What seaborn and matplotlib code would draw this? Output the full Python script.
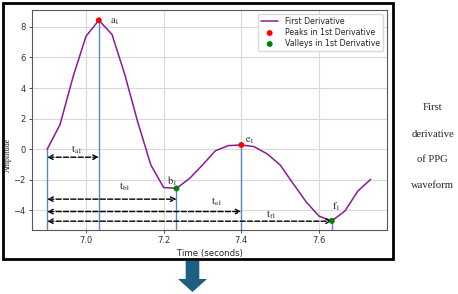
import numpy as np
import pandas as pd
import matplotlib
matplotlib.use("Agg")
import matplotlib.pyplot as plt
import matplotlib.patches as mpatches
import seaborn as sns

# ---- data ----
time = [6.900, 6.933, 6.967, 7.000, 7.033, 7.067, 7.100, 7.133, 7.167, 7.200,
        7.233, 7.267, 7.300, 7.333, 7.367, 7.400, 7.433, 7.467, 7.500, 7.533,
        7.567, 7.600, 7.633, 7.667, 7.700, 7.733]
deriv = [0.00, 1.60, 4.76, 7.38, 8.43, 7.50, 4.87, 1.80, -1.03, -2.50,
         -2.56, -1.90, -1.03, -0.10, 0.24, 0.28, 0.17, -0.31, -1.03, -2.23,
         -3.44, -4.37, -4.68, -4.03, -2.73, -1.97]
peak_idx = [4, 15]
valley_idx = [10, 22]
point_names = ["a1", "b1", "e1", "f1"]
interval_names = ["ta1", "tb1", "te1", "tf1"]
arrow_levels = [-0.52, -3.26, -4.07, -4.70]
side_text = ["First", "derivative", "of PPG", "waveform"]

df = pd.DataFrame({"Time (seconds)": time, "Amplitude": deriv})
peaks = df.iloc[peak_idx]
valleys = df.iloc[valley_idx]

sns.set_theme(style="whitegrid", rc={
    "xtick.bottom": True, "ytick.left": True,
    "axes.edgecolor": "0.35", "axes.linewidth": 0.8,
    "grid.color": "0.85", "grid.linewidth": 0.8,
    "xtick.color": "0.2", "ytick.color": "0.2",
    "xtick.major.size": 2.5, "ytick.major.size": 2.5,
    "xtick.major.width": 0.6, "ytick.major.width": 0.6,
})
plt.rcParams["font.family"] = ["DejaVu Sans"]
plt.rcParams["mathtext.fontset"] = "stix"

fig = plt.figure(figsize=(4.58, 2.94), dpi=100)
ax = fig.add_axes([0.0699, 0.218, 0.775, 0.748])

YMIN, YMAX = -5.27, 9.1
XMIN, XMAX = 6.861, 7.775

sns.lineplot(data=df, x="Time (seconds)", y="Amplitude", color="#8a1a96",
             lw=1.1, ax=ax, label="First Derivative", zorder=3)

start_t = time[0]
start_v = deriv[0]
event_idx = [peak_idx[0], valley_idx[0], peak_idx[1], valley_idx[1]]
vline_x = [start_t] + [time[i] for i in event_idx]
vline_top = [start_v] + [deriv[i] for i in event_idx]
ax.vlines(vline_x, YMIN, vline_top, color="#5287cc", lw=1.0, zorder=2)

sns.scatterplot(data=peaks, x="Time (seconds)", y="Amplitude", color="red",
                s=18, edgecolor="none", ax=ax, label="Peaks in 1st Derivative", zorder=4)
sns.scatterplot(data=valleys, x="Time (seconds)", y="Amplitude", color="green",
                s=18, edgecolor="none", ax=ax, label="Valleys in 1st Derivative", zorder=4)

# double-headed dashed arrows
for i, lvl in zip(event_idx, arrow_levels):
    ax.annotate("", xy=(time[i], lvl), xytext=(start_t, lvl),
                arrowprops=dict(arrowstyle="<->", linestyle="--", color="black",
                                lw=1.0, shrinkA=0, shrinkB=0, mutation_scale=8))

# point labels
pt_offsets = [(0.03, -0.1), (-0.025, 0.45), (0.01, 0.3), (0.0, 0.95)]
for name, i, (dx, dy) in zip(point_names, event_idx, pt_offsets):
    ax.text(time[i] + dx, deriv[i] + dy, f"$\\mathrm{{{name[0]}}}_{{{name[1:]}}}$",
            fontsize=7.5, ha="left", va="center")

# interval labels
int_pos = [(6.976, 0.0), (7.100, -2.45), (7.337, -3.40), (7.477, -4.30)]
for name, (x, y) in zip(interval_names, int_pos):
    ax.text(x, y, f"$\\mathrm{{{name[0]}}}_{{\\mathrm{{{name[1:]}}}}}$",
            fontsize=7.5, ha="center", va="center")

ax.set_xlim(XMIN, XMAX)
ax.set_ylim(YMIN, YMAX)
ax.set_xticks([7.0, 7.2, 7.4, 7.6])
ax.set_yticks([-4, -2, 0, 2, 4, 6, 8])
ax.tick_params(labelsize=6, pad=2)
ax.set_xlabel("Time (seconds)", fontsize=6.2, labelpad=3)
ax.set_ylabel("Amplitude", fontsize=5.8, family="Liberation Serif", color="0.1")
ax.yaxis.set_label_coords(-0.058, 0.34)

leg = ax.legend(loc="upper right", fontsize=5.7, frameon=True, framealpha=1,
                edgecolor="0.85", handlelength=2.2, borderpad=0.4,
                labelspacing=0.25, markerscale=1.0)

# outer frame
fig.patches.append(mpatches.Rectangle((0.006, 0.119), 0.852, 0.871,
                                      transform=fig.transFigure, fill=False,
                                      edgecolor="black", lw=2.0))

# side text
side_y = [108, 134, 159, 186]
for s, yy in zip(side_text, side_y):
    fig.text(0.945, 1 - yy / 294, s, family="Liberation Serif",
             fontsize=7.7, ha="center", va="center")

# down arrow
arrow_pts = [(185.7, 261), (199.3, 261), (199.3, 279), (207, 279), (192.5, 292),
             (178, 279), (185.7, 279)]
fig.patches.append(mpatches.Polygon([(x / 458, 1 - y / 294) for x, y in arrow_pts],
                                    closed=True, transform=fig.transFigure,
                                    facecolor="#1c5f80", edgecolor="none"))

fig.savefig("out.png", dpi=100)
